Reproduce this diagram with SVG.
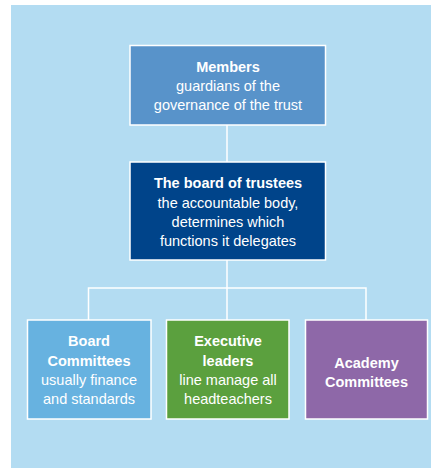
<svg xmlns="http://www.w3.org/2000/svg" width="431" height="468" viewBox="0 0 431 468">
<style>
.box{stroke:#ffffff;stroke-width:1.5}
.t{font-family:"Liberation Sans",Arial,sans-serif;font-size:14.5px;fill:#ffffff;text-anchor:middle}
.b{font-weight:bold}
.c{stroke:#ffffff;stroke-width:1.5;fill:none}
</style>
<rect x="0" y="0" width="431" height="468" fill="#ffffff"/>
<rect x="11" y="5" width="420" height="463" fill="#b3dcf2"/>
<g id="connectors">
<line class="c" x1="227" y1="125" x2="227" y2="162"/>
<line class="c" x1="227" y1="260" x2="227" y2="320"/>
<polyline class="c" points="88.5,320 88.5,288 366,288 366,320"/>
</g>
<g id="members">
<rect class="box" x="130" y="45.5" width="195.5" height="79.5" fill="#5893ca"/>
<text class="t b" x="228" y="71.5">Members</text>
<text class="t" x="228" y="90.5">guardians of the</text>
<text class="t" x="228" y="110">governance of the trust</text>
</g>
<g id="board">
<rect class="box" x="130" y="162" width="195.5" height="98" fill="#00448a"/>
<text class="t b" x="228" y="187.5">The board of trustees</text>
<text class="t" x="228" y="207.5">the accountable body,</text>
<text class="t" x="228" y="226.5">determines which</text>
<text class="t" x="228" y="245.5">functions it delegates</text>
</g>
<g id="board-committees">
<rect class="box" x="27.5" y="320" width="123.5" height="99" fill="#67b2e0"/>
<text class="t b" x="89" y="345.5">Board</text>
<text class="t b" x="89" y="365.5">Committees</text>
<text class="t" x="89" y="384.5">usually finance</text>
<text class="t" x="89" y="404">and standards</text>
</g>
<g id="executive-leaders">
<rect class="box" x="166.5" y="320" width="122.5" height="99" fill="#5ba03e"/>
<text class="t b" x="228" y="345.5">Executive</text>
<text class="t b" x="228" y="365.5">leaders</text>
<text class="t" x="228" y="384.5">line manage all</text>
<text class="t" x="228" y="404">headteachers</text>
</g>
<g id="academy-committees">
<rect class="box" x="305.5" y="320" width="122" height="99" fill="#8e68a8"/>
<text class="t b" x="366.5" y="367.5">Academy</text>
<text class="t b" x="366.5" y="386.5">Committees</text>
</g>
</svg>
